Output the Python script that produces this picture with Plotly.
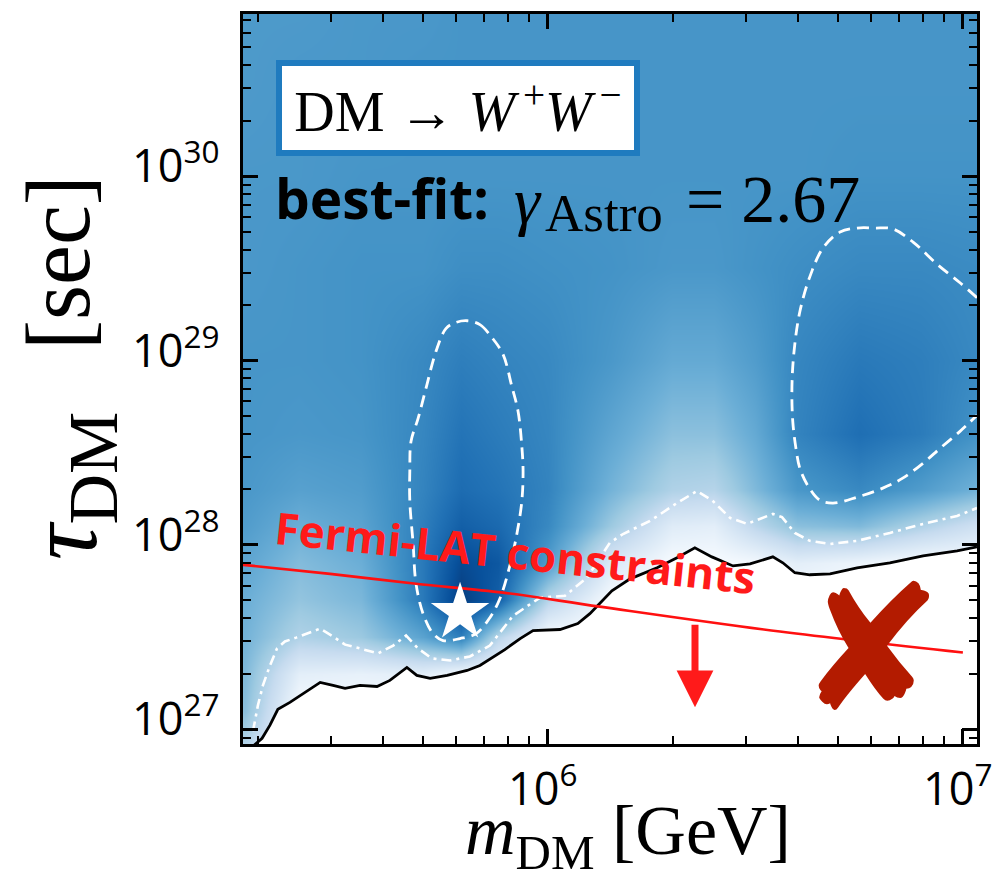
import math
import plotly.graph_objects as go

# ---------------- axis ranges (log10 units) ----------------
X_RANGE = [5.265, 7.034]      # log10(m_DM / GeV)
Y_RANGE = [26.92, 30.88]      # log10(tau_DM / sec)

# ---------------- likelihood map (colour index) ----------------
grid_log_m = [5.27, 5.40, 5.55, 5.70, 5.79, 5.88, 6.00, 6.15, 6.30, 6.40, 6.50, 6.60, 6.75, 6.90, 7.04]
grid_log_tau = [26.9, 27.1, 27.3, 27.5, 27.7, 27.9, 28.1, 28.3, 28.6, 29.0, 29.5, 30.0, 30.5, 30.9]
map_values = [
    [0.30, 0.00, 0.00, 0.00, 0.00, 0.00, 0.00, 0.00, 0.00, 0.00, 0.00, 0.00, 0.00, 0.00, 0.00],
    [0.42, 0.00, 0.00, 0.00, 0.00, 0.00, 0.00, 0.00, 0.00, 0.00, 0.00, 0.00, 0.00, 0.00, 0.00],
    [0.45, 0.10, 0.08, 0.10, 0.02, 0.00, 0.00, 0.00, 0.00, 0.00, 0.00, 0.00, 0.00, 0.00, 0.00],
    [0.48, 0.32, 0.38, 0.55, 0.70, 0.30, 0.00, 0.00, 0.00, 0.00, 0.00, 0.00, 0.00, 0.00, 0.00],
    [0.50, 0.40, 0.46, 0.72, 0.95, 0.82, 0.30, 0.00, 0.00, 0.00, 0.00, 0.00, 0.00, 0.00, 0.00],
    [0.54, 0.44, 0.50, 0.72, 0.90, 0.85, 0.58, 0.15, 0.00, 0.00, 0.02, 0.10, 0.05, 0.00, 0.00],
    [0.58, 0.50, 0.55, 0.70, 0.82, 0.78, 0.66, 0.38, 0.12, 0.10, 0.28, 0.42, 0.45, 0.32, 0.20],
    [0.60, 0.56, 0.58, 0.68, 0.77, 0.74, 0.68, 0.48, 0.32, 0.30, 0.45, 0.60, 0.66, 0.58, 0.48],
    [0.61, 0.60, 0.61, 0.67, 0.74, 0.71, 0.67, 0.54, 0.42, 0.42, 0.52, 0.68, 0.76, 0.71, 0.62],
    [0.61, 0.61, 0.62, 0.66, 0.70, 0.68, 0.66, 0.60, 0.52, 0.52, 0.58, 0.67, 0.72, 0.70, 0.66],
    [0.60, 0.61, 0.62, 0.62, 0.64, 0.64, 0.63, 0.62, 0.60, 0.60, 0.62, 0.64, 0.66, 0.66, 0.65],
    [0.60, 0.60, 0.61, 0.61, 0.61, 0.61, 0.61, 0.61, 0.61, 0.61, 0.61, 0.61, 0.62, 0.62, 0.62],
    [0.59, 0.60, 0.60, 0.61, 0.61, 0.61, 0.61, 0.61, 0.61, 0.61, 0.61, 0.61, 0.61, 0.61, 0.61],
    [0.59, 0.59, 0.60, 0.60, 0.61, 0.61, 0.61, 0.61, 0.61, 0.61, 0.61, 0.61, 0.61, 0.61, 0.61],
]
blues = ["#f7fbff", "#deebf7", "#c6dbef", "#9ecae1", "#6baed6",
         "#4292c6", "#2171b5", "#08519c", "#08306b"]

# ---------------- black limit curve ----------------
limit_log_m = [5.285, 5.311, 5.330, 5.349, 5.378, 5.414, 5.451, 5.482, 5.511, 5.547, 5.588,
               5.619, 5.660, 5.684, 5.716, 5.757, 5.805, 5.836, 5.867, 5.896, 5.933, 5.964,
               6.029, 6.072, 6.101, 6.125, 6.154, 6.198, 6.263, 6.311, 6.354, 6.395, 6.446,
               6.487, 6.542, 6.566, 6.595, 6.631, 6.680, 6.745, 6.824, 6.904, 6.986, 7.034]
limit_log_tau = [26.90, 26.951, 27.022, 27.108, 27.146, 27.200, 27.254, 27.238, 27.222, 27.238, 27.232,
                 27.265, 27.335, 27.292, 27.276, 27.292, 27.319, 27.346, 27.389, 27.432, 27.492, 27.535,
                 27.541, 27.573, 27.627, 27.681, 27.751, 27.816, 27.876, 27.930, 27.984, 27.935, 27.886,
                 27.897, 27.935, 27.903, 27.849, 27.838, 27.843, 27.876, 27.903, 27.941, 27.968, 27.989]

# ---------------- dash-dot contour ----------------
dd_log_m = [5.289, 5.301, 5.313, 5.330, 5.347, 5.366, 5.393, 5.427, 5.451, 5.482, 5.511, 5.547,
            5.590, 5.627, 5.658, 5.687, 5.720, 5.764, 5.812, 5.860, 5.916, 5.981, 6.041, 6.094,
            6.149, 6.181, 6.246, 6.311, 6.359, 6.395, 6.439, 6.480, 6.542, 6.564, 6.595, 6.631,
            6.680, 6.745, 6.824, 6.904, 6.986, 7.034]
dd_log_tau = [26.989, 27.130, 27.238, 27.346, 27.438, 27.476, 27.497, 27.524, 27.546, 27.503, 27.459, 27.438,
              27.411, 27.454, 27.508, 27.438, 27.384, 27.373, 27.395, 27.454, 27.616, 27.714, 27.724, 27.822,
              28.011, 28.059, 28.130, 28.227, 28.292, 28.243, 28.146, 28.114, 28.168, 28.151, 28.065, 28.022,
              28.005, 28.022, 28.065, 28.114, 28.157, 28.200]

# ---------------- dashed contour around left peak ----------------
left_log_m = [5.805, 5.836, 5.867, 5.892, 5.913, 5.928, 5.937, 5.940, 5.937, 5.925, 5.908, 5.884,
              5.860, 5.827, 5.788, 5.747, 5.723, 5.699, 5.682, 5.675, 5.667, 5.667, 5.670, 5.687,
              5.706, 5.730, 5.754, 5.776, 5.805]
left_log_tau = [29.216, 29.195, 29.119, 29.032, 28.859, 28.724, 28.535, 28.400, 28.238, 28.059, 27.886, 27.708,
                27.605, 27.519, 27.492, 27.481, 27.519, 27.627, 27.789, 28.005, 28.238, 28.400, 28.562, 28.686,
                28.849, 29.049, 29.173, 29.205, 29.216]

# ---------------- dashed contour around right peak ----------------
right_log_m = [7.034, 6.993, 6.937, 6.880, 6.831, 6.788, 6.745, 6.704, 6.663, 6.631, 6.607, 6.593,
               6.588, 6.590, 6.598, 6.607, 6.627, 6.655, 6.687, 6.745, 6.807, 6.855, 6.904, 6.945,
               6.993, 7.034]
right_log_tau = [29.341, 29.422, 29.524, 29.643, 29.714, 29.719, 29.719, 29.697, 29.611, 29.454, 29.265, 29.049,
                 28.859, 28.670, 28.519, 28.416, 28.319, 28.243, 28.227, 28.259, 28.308, 28.362, 28.443, 28.524,
                 28.616, 28.703]

# ---------------- Fermi-LAT constraint ----------------
fermi_log_m = [5.265, 5.475, 5.682, 5.892, 6.125, 6.559, 7.000]
fermi_log_tau = [27.892, 27.843, 27.789, 27.741, 27.665, 27.530, 27.416]

# ---------------- best-fit point ----------------
best_m = [6.14e5]
best_tau = [4.3e27]

x_major = [1e6, 1e7]
x_major_text = ["10<sup>6</sup>", "10<sup>7</sup>"]
y_major = [1e27, 1e28, 1e29, 1e30]
y_major_text = ["10<sup>27</sup>", "10<sup>28</sup>", "10<sup>29</sup>", "10<sup>30</sup>"]


def pw(vals):
    return [10.0 ** v for v in vals]


x_minor = [float(k) * 10.0 ** n for n in (5, 6) for k in range(2, 10)]
y_minor = [float(k) * 10.0 ** n for n in (26, 27, 28, 29, 30) for k in range(2, 10)]

fig = go.Figure()

fig.add_trace(go.Heatmap(
    x=pw(grid_log_m), y=pw(grid_log_tau), z=map_values,
    zmin=0, zmax=1, zsmooth="best", showscale=False,
    colorscale=[[i / (len(blues) - 1), c] for i, c in enumerate(blues)],
    hoverinfo="skip"))

# white (excluded) area below the limit curve
floor_tau = 10.0 ** (Y_RANGE[0] - 0.3)
fig.add_trace(go.Scatter(
    x=pw(limit_log_m) + [10.0 ** limit_log_m[-1], 10.0 ** limit_log_m[0]],
    y=pw(limit_log_tau) + [floor_tau, floor_tau],
    mode="lines", fill="toself", fillcolor="white", line=dict(width=0),
    hoverinfo="skip"))

fig.add_trace(go.Scatter(x=pw(dd_log_m), y=pw(dd_log_tau), mode="lines",
                         line=dict(color="white", width=2.6, dash="10px,5px,3px,5px")))
fig.add_trace(go.Scatter(x=pw(left_log_m), y=pw(left_log_tau), mode="lines",
                         line=dict(color="white", width=2.8, dash="12px,7px", shape="spline")))
fig.add_trace(go.Scatter(x=pw(right_log_m), y=pw(right_log_tau), mode="lines",
                         line=dict(color="white", width=2.8, dash="12px,7px", shape="spline")))
fig.add_trace(go.Scatter(x=pw(limit_log_m), y=pw(limit_log_tau), mode="lines",
                         line=dict(color="black", width=2.8)))
fig.add_trace(go.Scatter(x=pw(fermi_log_m), y=pw(fermi_log_tau), mode="lines",
                         line=dict(color="#ff1010", width=2.6, shape="spline")))
fig.add_trace(go.Scatter(x=best_m, y=best_tau, mode="markers",
                         marker=dict(symbol="star", size=44, color="white", line=dict(width=0))))

axis_common = dict(
    type="log", showgrid=False, zeroline=False, showticklabels=False,
    showline=True, linecolor="black", linewidth=2.5, mirror="allticks",
    ticks="inside", ticklen=15, tickwidth=2.5, tickcolor="black",
    minor=dict(ticks="inside", ticklen=8, tickwidth=2, tickcolor="black", showgrid=False),
)

fig.update_xaxes(axis_common, range=X_RANGE, tickmode="array", tickvals=x_major,
                 minor_tickmode="array", minor_tickvals=x_minor)
fig.update_yaxes(axis_common, range=Y_RANGE, tickmode="array", tickvals=y_major,
                 minor_tickmode="array", minor_tickvals=y_minor)

tick_font = dict(family="Open Sans", size=45, color="black")
annotations = []
# tick labels (placed at the tick values)
for v, t in zip(x_major, x_major_text):
    annotations.append(dict(xref="x", yref="paper", x=math.log10(v), y=0, xanchor="center",
                            yanchor="middle", xshift=-5, yshift=-41, text=t, showarrow=False,
                            font=tick_font))
for v, t in zip(y_major, y_major_text):
    annotations.append(dict(xref="paper", yref="y", x=-0.0286, y=math.log10(v), xanchor="right",
                            yanchor="middle", yshift=14, text=t, showarrow=False, font=tick_font))

serif = "Liberation Serif"
annotations += [
    # channel label box
    dict(xref="paper", yref="paper", x=0.045, y=0.9372, xanchor="left", yanchor="top",
         text="DM → <i>W</i><sup>\u2009+</sup><i>W</i><sup>\u2009−</sup>", showarrow=False,
         font=dict(family=serif, size=56, color="black"),
         bgcolor="white", bordercolor="#1f7bbf", borderwidth=6, borderpad=0,
         width=352, height=84, align="center"),
    # best-fit text
    dict(xref="paper", yref="paper", x=0.0409, y=0.749, xanchor="left", yanchor="middle",
         text="<b>best-fit:</b>", showarrow=False,
         font=dict(family="Open Sans", size=55, color="black")),
    dict(xref="paper", yref="paper", x=0.366, y=0.745, xanchor="left", yanchor="middle",
         text="<i>γ</i>", showarrow=False, font=dict(family=serif, size=66, color="black")),
    dict(xref="paper", yref="paper", x=0.409, y=0.727, xanchor="left", yanchor="middle",
         text="Astro", showarrow=False, font=dict(family=serif, size=53, color="black")),
    dict(xref="paper", yref="paper", x=0.601, y=0.747, xanchor="left", yanchor="middle",
         text="= 2.67", showarrow=False, font=dict(family=serif, size=68, color="black")),
    # Fermi text
    dict(xref="paper", yref="paper", x=0.3706, y=0.263, xanchor="center", yanchor="middle",
         text="<b>Fermi-LAT constraints</b>", textangle=6, showarrow=False,
         font=dict(family="Open Sans", size=44, color="#ff1a1a")),
    # arrow
    dict(xref="paper", yref="paper", x=0.6158, y=0.0505, ax=0, ay=-84, text="",
         showarrow=True, arrowhead=2, arrowsize=1.05, arrowwidth=7, arrowcolor="#ff1a1a", standoff=0),
    # excluded cross
    dict(xref="paper", yref="paper", x=0.855, y=0.13, xanchor="center", yanchor="middle",
         text="✘", showarrow=False, font=dict(family="DejaVu Sans", size=175, color="#b31b00")),
    # x-axis title
    dict(xref="paper", yref="paper", x=0.5245, y=-0.1262, xanchor="center", yanchor="middle",
         text="<i>m</i><sub>DM</sub> [GeV]", showarrow=False,
         font=dict(family=serif, size=70, color="black")),
    # y-axis title (two parts)
    dict(xref="paper", yref="paper", x=-0.236, y=0.354, xanchor="center", yanchor="middle",
         text="<i>τ</i><sub>DM</sub>", textangle=-90, showarrow=False,
         font=dict(family=serif, size=100, color="black")),
    dict(xref="paper", yref="paper", x=-0.2505, y=0.659, xanchor="center", yanchor="middle",
         text="[sec]", textangle=-90, showarrow=False,
         font=dict(family=serif, size=90, color="black")),
]

fig.update_layout(
    width=1003, height=881,
    margin=dict(l=243, r=26, t=11, b=137),
    paper_bgcolor="white", plot_bgcolor="white",
    showlegend=False,
    annotations=annotations,
)

fig.write_html("out.html")
